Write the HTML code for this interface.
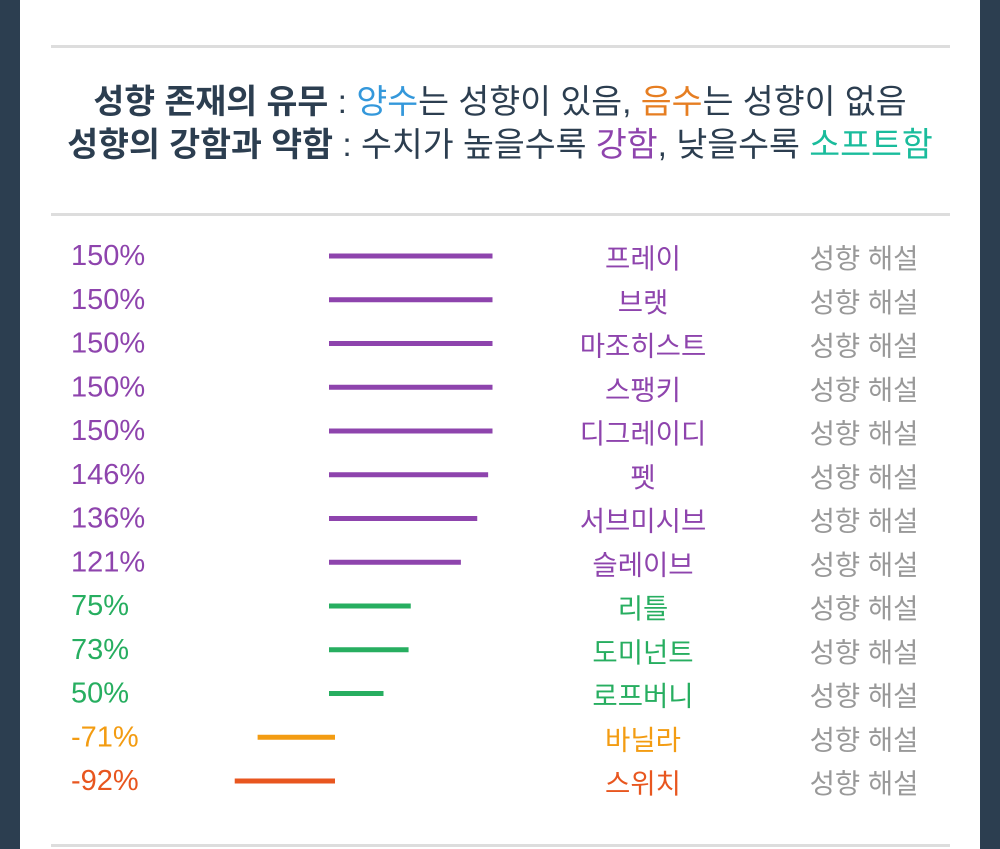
<!DOCTYPE html>
<html><head><meta charset="utf-8"><style>
body{margin:0;width:1000px;height:849px;background:#2c3e50;overflow:hidden;font-family:"Liberation Sans","Noto Sans CJK KR",sans-serif}
#panel{position:absolute;left:20px;top:0;width:960px;height:849px;background:#fff}
.hr{position:absolute;left:51px;width:899px;height:3px;background:#ddd}
.title{position:absolute;left:0;width:1000px;text-align:center;font-size:33.6px;color:#2c3e50;line-height:40px;white-space:nowrap}
.title b{font-weight:bold}
</style></head><body>
<div id="panel"></div>
<div class="hr" style="top:45px"></div>
<div class="hr" style="top:213px"></div>
<div class="hr" style="top:844px"></div>
<div class="title" style="top:83px"><b>성향 존재의 유무</b> : <span style="color:#3498db">양수</span>는 성향이 있음, <span style="color:#e67e22">음수</span>는 성향이 없음</div>
<div class="title" style="top:126px"><b>성향의 강함과 약함</b> : 수치가 높을수록 <span style="color:#8e44ad">강함</span>, 낮을수록 <span style="color:#1abc9c">소프트함</span></div>
<svg id="chart" width="1000" height="849" style="position:absolute;left:0;top:0"></svg>
<script>
const categories=["프레이","브랫","마조히스트","스팽키","디그레이디","펫","서브미시브","슬레이브","리틀","도미넌트","로프버니","바닐라","스위치"];
const values=[150,150,150,150,150,146,136,121,75,73,50,-71,-92];
const colors=["#8e44ad","#8e44ad","#8e44ad","#8e44ad","#8e44ad","#8e44ad","#8e44ad","#8e44ad","#27ae60","#27ae60","#27ae60","#f39c12","#e8561f"];
const svg=document.getElementById('chart');
const NS='http://www.w3.org/2000/svg';
const scale=1.09;
function x(v){return v>=0?329+v*scale:335+v*scale;}
function y(i){return 256+i*43.75;}
categories.forEach((c,i)=>{
  const v=values[i];
  const r=document.createElementNS(NS,'rect');
  const x0=v>=0?329:x(v), x1=v>=0?x(v):335;
  r.setAttribute('x',x0);r.setAttribute('y',y(i)-2.5);r.setAttribute('width',x1-x0);r.setAttribute('height',5);r.setAttribute('fill',colors[i]);
  
  
  svg.appendChild(r);
  const t=document.createElementNS(NS,'text');
  t.setAttribute('x',71);t.setAttribute('y',y(i)+9);t.setAttribute('font-size',29);t.setAttribute('fill',colors[i]);
  t.textContent=v+'%';
  
  
  svg.appendChild(t);
  const n=document.createElementNS(NS,'text');
  n.setAttribute('x',643);n.setAttribute('y',y(i)+12);n.setAttribute('font-size',27.5);n.setAttribute('text-anchor','middle');n.setAttribute('fill',colors[i]);
  n.textContent=c;
  
  
  svg.appendChild(n);
  const d=document.createElementNS(NS,'text');
  d.setAttribute('x',864);d.setAttribute('y',y(i)+12);d.setAttribute('font-size',27.5);d.setAttribute('text-anchor','middle');d.setAttribute('fill','#999');
  d.textContent='성향 해설';
  
  
  svg.appendChild(d);
});
</script>
</body></html>
